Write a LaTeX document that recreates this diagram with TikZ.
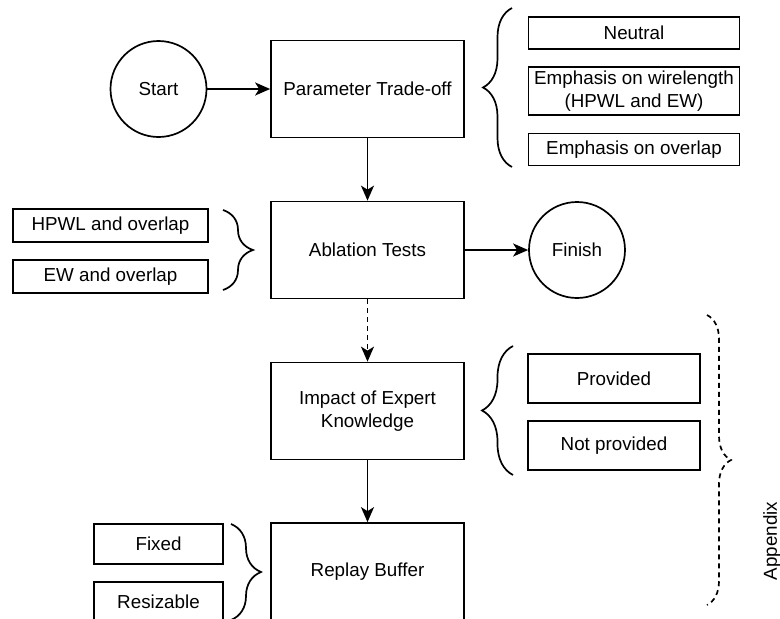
\documentclass[tikz,border=0pt]{standalone}
\usepackage{fontspec}
\setmainfont{Liberation Sans}
\usetikzlibrary{arrows.meta}
\usetikzlibrary{decorations.pathreplacing}
\usetikzlibrary{positioning}

\begin{document}
\begin{tikzpicture}[x=1pt, y=-1pt, line width=1.7pt,
        font=\fontsize{18.8}{23}\selectfont,
        stage/.style={draw, rectangle, minimum width=193pt, minimum height=97pt, align=center, inner sep=0pt},
        terminal/.style={draw, circle, minimum size=96pt, inner sep=0pt},
        option/.style 2 args={draw, rectangle, minimum width=#1, minimum height=#2, align=center, inner sep=0pt},
        flow/.style={-{Stealth[length=15pt, width=13pt, inset=4pt]}},
        curly/.style={decorate, decoration={brace, amplitude=#1}}]
            \useasboundingbox (0,0) rectangle (780,619);
            \clip             (0,0) rectangle (780,619);

            \node[terminal]                  (start)       at (158.5,  89.0) {Start};
            \node[stage]                     (param)       at (367.5,  89.0) {Parameter Trade-off};
            \node[stage]                     (ablation)    at (367.5, 250.0) {Ablation Tests};
            \node[terminal]                  (finish)      at (577.0, 250.0) {Finish};
            \node[stage]                     (expert)      at (367.5, 411.0) {Impact of Expert\\Knowledge};
            \node[stage]                     (replay)      at (367.5, 571.5) {Replay Buffer};

            \node[option={211pt}{32pt}]      (neutral)     at (634.0,  33.0) {Neutral};
            \node[option={211pt}{48pt}, below=16pt of neutral]  (wirelen)     {Emphasis on wirelength\\(HPWL and EW)};
            \node[option={211pt}{32pt}, below=17pt of wirelen]  (overlapemph) {Emphasis on overlap};

            \node[option={195pt}{33pt}]      (hpwl)        at (110.5, 225.5) {HPWL and overlap};
            \node[option={195pt}{33pt}, below=16pt of hpwl]     (ewoverlap)   {EW and overlap};

            \node[option={172pt}{49pt}]      (provided)    at (614.0, 378.5) {Provided};
            \node[option={172pt}{49pt}, below=16pt of provided] (notprovided) {Not provided};

            \node[option={129pt}{40pt}]      (fixed)       at (158.5, 544.0) {Fixed};
            \node[option={129pt}{40pt}, below=16pt of fixed]    (resizable)   {Resizable};

            \node[rotate=90]                 (appendix)    at (772.0, 541.0) {Appendix};

            \draw[flow] (start)    -- (param);
            \draw[flow] (param)    -- (ablation);
            \draw[flow] (ablation) -- (finish);
            \draw[flow, dash pattern=on 5pt off 4pt] (ablation) -- (expert);
            \draw[flow] (expert)   -- (replay);

            \draw[curly=29pt] (512, 167) -- (512,   8);
            \draw[curly=30pt] (223, 210) -- (223, 290);
            \draw[curly=31pt] (513, 475) -- (513, 346);
            \draw[curly=30pt] (231, 524) -- (231, 620);
            \draw[curly=24pt, dash pattern=on 5pt off 4pt] (707, 315) -- (707, 605);
\end{tikzpicture}
\end{document}
